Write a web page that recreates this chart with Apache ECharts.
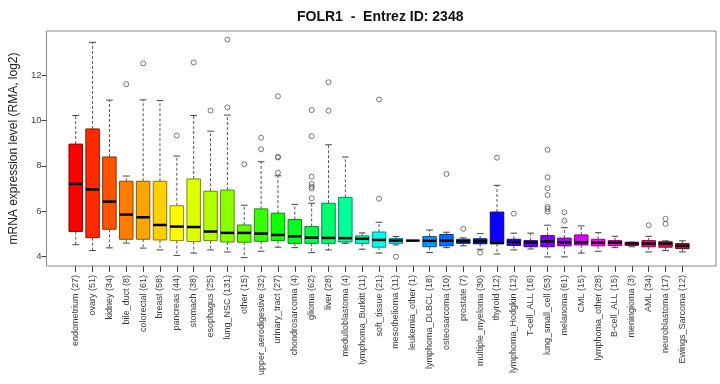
<!DOCTYPE html>
<html><head><meta charset="utf-8">
<script src="https://cdn.jsdelivr.net/npm/echarts@6/dist/echarts.min.js"></script>
<style>html,body{margin:0;padding:0;background:#fff}#c{width:720px;height:384px}</style>
</head><body><div id="c"></div>
<script>
const categories = ['endometrium (27)','ovary (51)','kidney (34)','bile_duct (8)','colorectal (61)','breast (58)','pancreas (44)','stomach (38)','esophagus (25)','lung_NSC (131)','other (15)','upper_aerodigestive (32)','urinary_tract (27)','chondrosarcoma (4)','glioma (62)','liver (28)','medulloblastoma (4)','lymphoma_Burkitt (11)','soft_tissue (21)','mesothelioma (11)','leukemia_other (1)','lymphoma_DLBCL (18)','osteosarcoma (10)','prostate (7)','multiple_myeloma (30)','thyroid (12)','lymphoma_Hodgkin (12)','T-cell_ALL (16)','lung_small_cell (53)','melanoma (61)','CML (15)','lymphoma_other (28)','B-cell_ALL (15)','meningioma (3)','AML (34)','neuroblastoma (17)','Ewings_Sarcoma (12)'];
const whiskerLow  = [4.52,4.26,4.38,4.59,4.37,4.29,4.04,4.15,4.29,4.20,3.95,4.23,4.41,4.39,4.17,4.29,4.58,4.32,4.15,4.51,4.70,4.17,4.39,4.47,4.32,4.11,4.29,4.33,3.98,3.98,4.15,4.23,4.39,4.43,4.20,4.26,4.20];
const q1          = [5.10,4.83,5.20,4.76,4.76,4.73,4.70,4.66,4.70,4.64,4.63,4.67,4.70,4.58,4.58,4.58,4.64,4.58,4.41,4.58,4.70,4.43,4.47,4.58,4.56,4.56,4.49,4.43,4.43,4.47,4.51,4.47,4.48,4.49,4.43,4.41,4.35];
const median      = [7.20,6.96,6.42,5.85,5.73,5.39,5.32,5.30,5.10,5.04,5.04,5.01,4.95,4.89,4.83,4.82,4.81,4.78,4.73,4.70,4.70,4.69,4.70,4.67,4.67,4.60,4.64,4.61,4.67,4.63,4.63,4.61,4.61,4.57,4.57,4.57,4.47];
const q3          = [8.96,9.63,8.39,7.32,7.32,7.32,6.24,7.42,6.88,6.93,5.39,6.10,5.91,5.63,5.32,6.35,6.61,4.91,5.08,4.79,4.70,4.88,4.97,4.76,4.78,5.96,4.76,4.70,4.92,4.81,4.95,4.76,4.70,4.63,4.70,4.65,4.57];
const whiskerHigh = [10.22,13.45,10.90,7.55,10.91,10.88,8.43,10.22,9.53,10.24,6.26,8.18,7.56,6.30,6.35,8.93,8.39,5.04,5.51,4.88,4.70,5.17,5.07,4.82,5.01,7.14,5.03,5.03,5.38,5.27,5.35,5.05,4.89,4.63,4.89,4.69,4.69];
const outliers = [[],[],[],[11.60],[12.52],[],[9.34],[12.56],[10.44],[10.58,13.57],[8.07],[8.73,9.24],[7.70,8.37,8.40,11.07],[],[6.57,7.00,7.08,7.20,7.52,9.31,10.46],[10.43,11.69],[],[],[6.55,10.93],[3.99],[],[],[7.64],[5.22],[4.17],[8.36],[5.89],[],[5.98,6.10,6.19,6.71,7.01,7.49,8.71],[5.58,5.95],[],[],[],[],[5.38],[5.44,5.66],[]];
const yTicks = [4, 6, 8, 10, 12];
const titleText = 'FOLR1  -  Entrez ID: 2348';
const yName = 'mRNA expression level (RMA, log2)';

function hsv(h, s, v) {
  const i = Math.floor(h * 6), f = h * 6 - i;
  const p = v * (1 - s), q = v * (1 - f * s), t = v * (1 - (1 - f) * s);
  let r, g, b;
  switch (i % 6) {
    case 0: r = v; g = t; b = p; break;
    case 1: r = q; g = v; b = p; break;
    case 2: r = p; g = v; b = t; break;
    case 3: r = p; g = q; b = v; break;
    case 4: r = t; g = p; b = v; break;
    default: r = v; g = p; b = q;
  }
  const hx = x => Math.round(x * 255).toString(16).padStart(2, '0');
  return '#' + hx(r) + hx(g) + hx(b);
}
const n = categories.length;
const fills = categories.map((_, i) => hsv(i / n, 1, 1));
const strokes = categories.map((_, i) => hsv(i / n, 1, 0.55));

const boxData = categories.map((c, i) => [i, whiskerLow[i], q1[i], median[i], q3[i], whiskerHigh[i]]);
const outlierData = [];
outliers.forEach((arr, i) => arr.forEach(v => outlierData.push([i, v])));

const Y_MIN = 3.58, Y_MAX = 13.95;
const FONT = 'Liberation Sans, Arial, sans-serif';

const chart = echarts.init(document.getElementById('c'), null, {renderer: 'canvas'});
chart.setOption({
  animation: false,
  title: {text: titleText, left: 292, top: 5,
    textStyle: {fontFamily: FONT, fontSize: 14, fontWeight: 'bold', color: '#111'}},
  grid: [
    {left: 42, top: 31, width: 674, height: 235, show: true, borderColor: '#888', borderWidth: 1},
    {left: 67.3, top: 31, width: 623.5, height: 235}
  ],
  xAxis: [
    {gridIndex: 0, type: 'value', min: 0, max: 1, show: false},
    {gridIndex: 1, type: 'category', data: categories, boundaryGap: true,
      axisLine: {show: false},
      axisTick: {show: true, alignWithLabel: true, length: 6, lineStyle: {color: '#444'}},
      axisLabel: {rotate: 90, interval: 0, fontSize: 9, color: '#3a3a3a', margin: 9, fontFamily: FONT},
      splitLine: {show: false}}
  ],
  yAxis: [
    {gridIndex: 0, type: 'value', min: Y_MIN, max: Y_MAX,
      splitLine: {show: false}, axisLine: {show: false},
      axisTick: {show: true, length: 5, customValues: yTicks, lineStyle: {color: '#444'}},
      axisLabel: {customValues: yTicks, fontSize: 9.5, color: '#444', margin: 5, fontFamily: FONT},
      name: yName, nameLocation: 'middle', nameGap: 25,
      nameTextStyle: {fontSize: 12, color: '#222', fontFamily: FONT}},
    {gridIndex: 1, type: 'value', min: Y_MIN, max: Y_MAX, show: false}
  ],
  series: [
    {type: 'custom', xAxisIndex: 1, yAxisIndex: 1, data: boxData,
      encode: {x: 0, y: [1, 2, 3, 4, 5]},
      renderItem: function (params, api) {
        const i = api.value(0);
        const lo = api.coord([i, api.value(1)]);
        const a = api.coord([i, api.value(2)]);
        const m = api.coord([i, api.value(3)]);
        const b = api.coord([i, api.value(4)]);
        const hi = api.coord([i, api.value(5)]);
        const bw = api.size([1, 0])[0];
        const w = bw * 0.8, cw = w * 0.5;
        const x = lo[0];
        const dash = {stroke: '#555', lineWidth: 1, lineDash: [3, 2]};
        const solid = {stroke: '#444', lineWidth: 1};
        return {type: 'group', children: [
          {type: 'line', shape: {x1: x, y1: b[1], x2: x, y2: hi[1]}, style: dash},
          {type: 'line', shape: {x1: x, y1: a[1], x2: x, y2: lo[1]}, style: dash},
          {type: 'line', shape: {x1: x - cw / 2, y1: hi[1], x2: x + cw / 2, y2: hi[1]}, style: solid},
          {type: 'line', shape: {x1: x - cw / 2, y1: lo[1], x2: x + cw / 2, y2: lo[1]}, style: solid},
          {type: 'rect', shape: {x: x - w / 2, y: b[1], width: w, height: a[1] - b[1]},
            style: {fill: fills[i], stroke: strokes[i], lineWidth: 1}},
          {type: 'line', shape: {x1: x - w / 2, y1: m[1], x2: x + w / 2, y2: m[1]},
            style: {stroke: '#000', lineWidth: 2.5}}
        ]};
      }},
    {type: 'scatter', xAxisIndex: 1, yAxisIndex: 1, data: outlierData,
      symbol: 'circle', symbolSize: 5,
      itemStyle: {color: 'rgba(0,0,0,0)', borderColor: '#555', borderWidth: 1}}
  ]
});
</script>
</body></html>
